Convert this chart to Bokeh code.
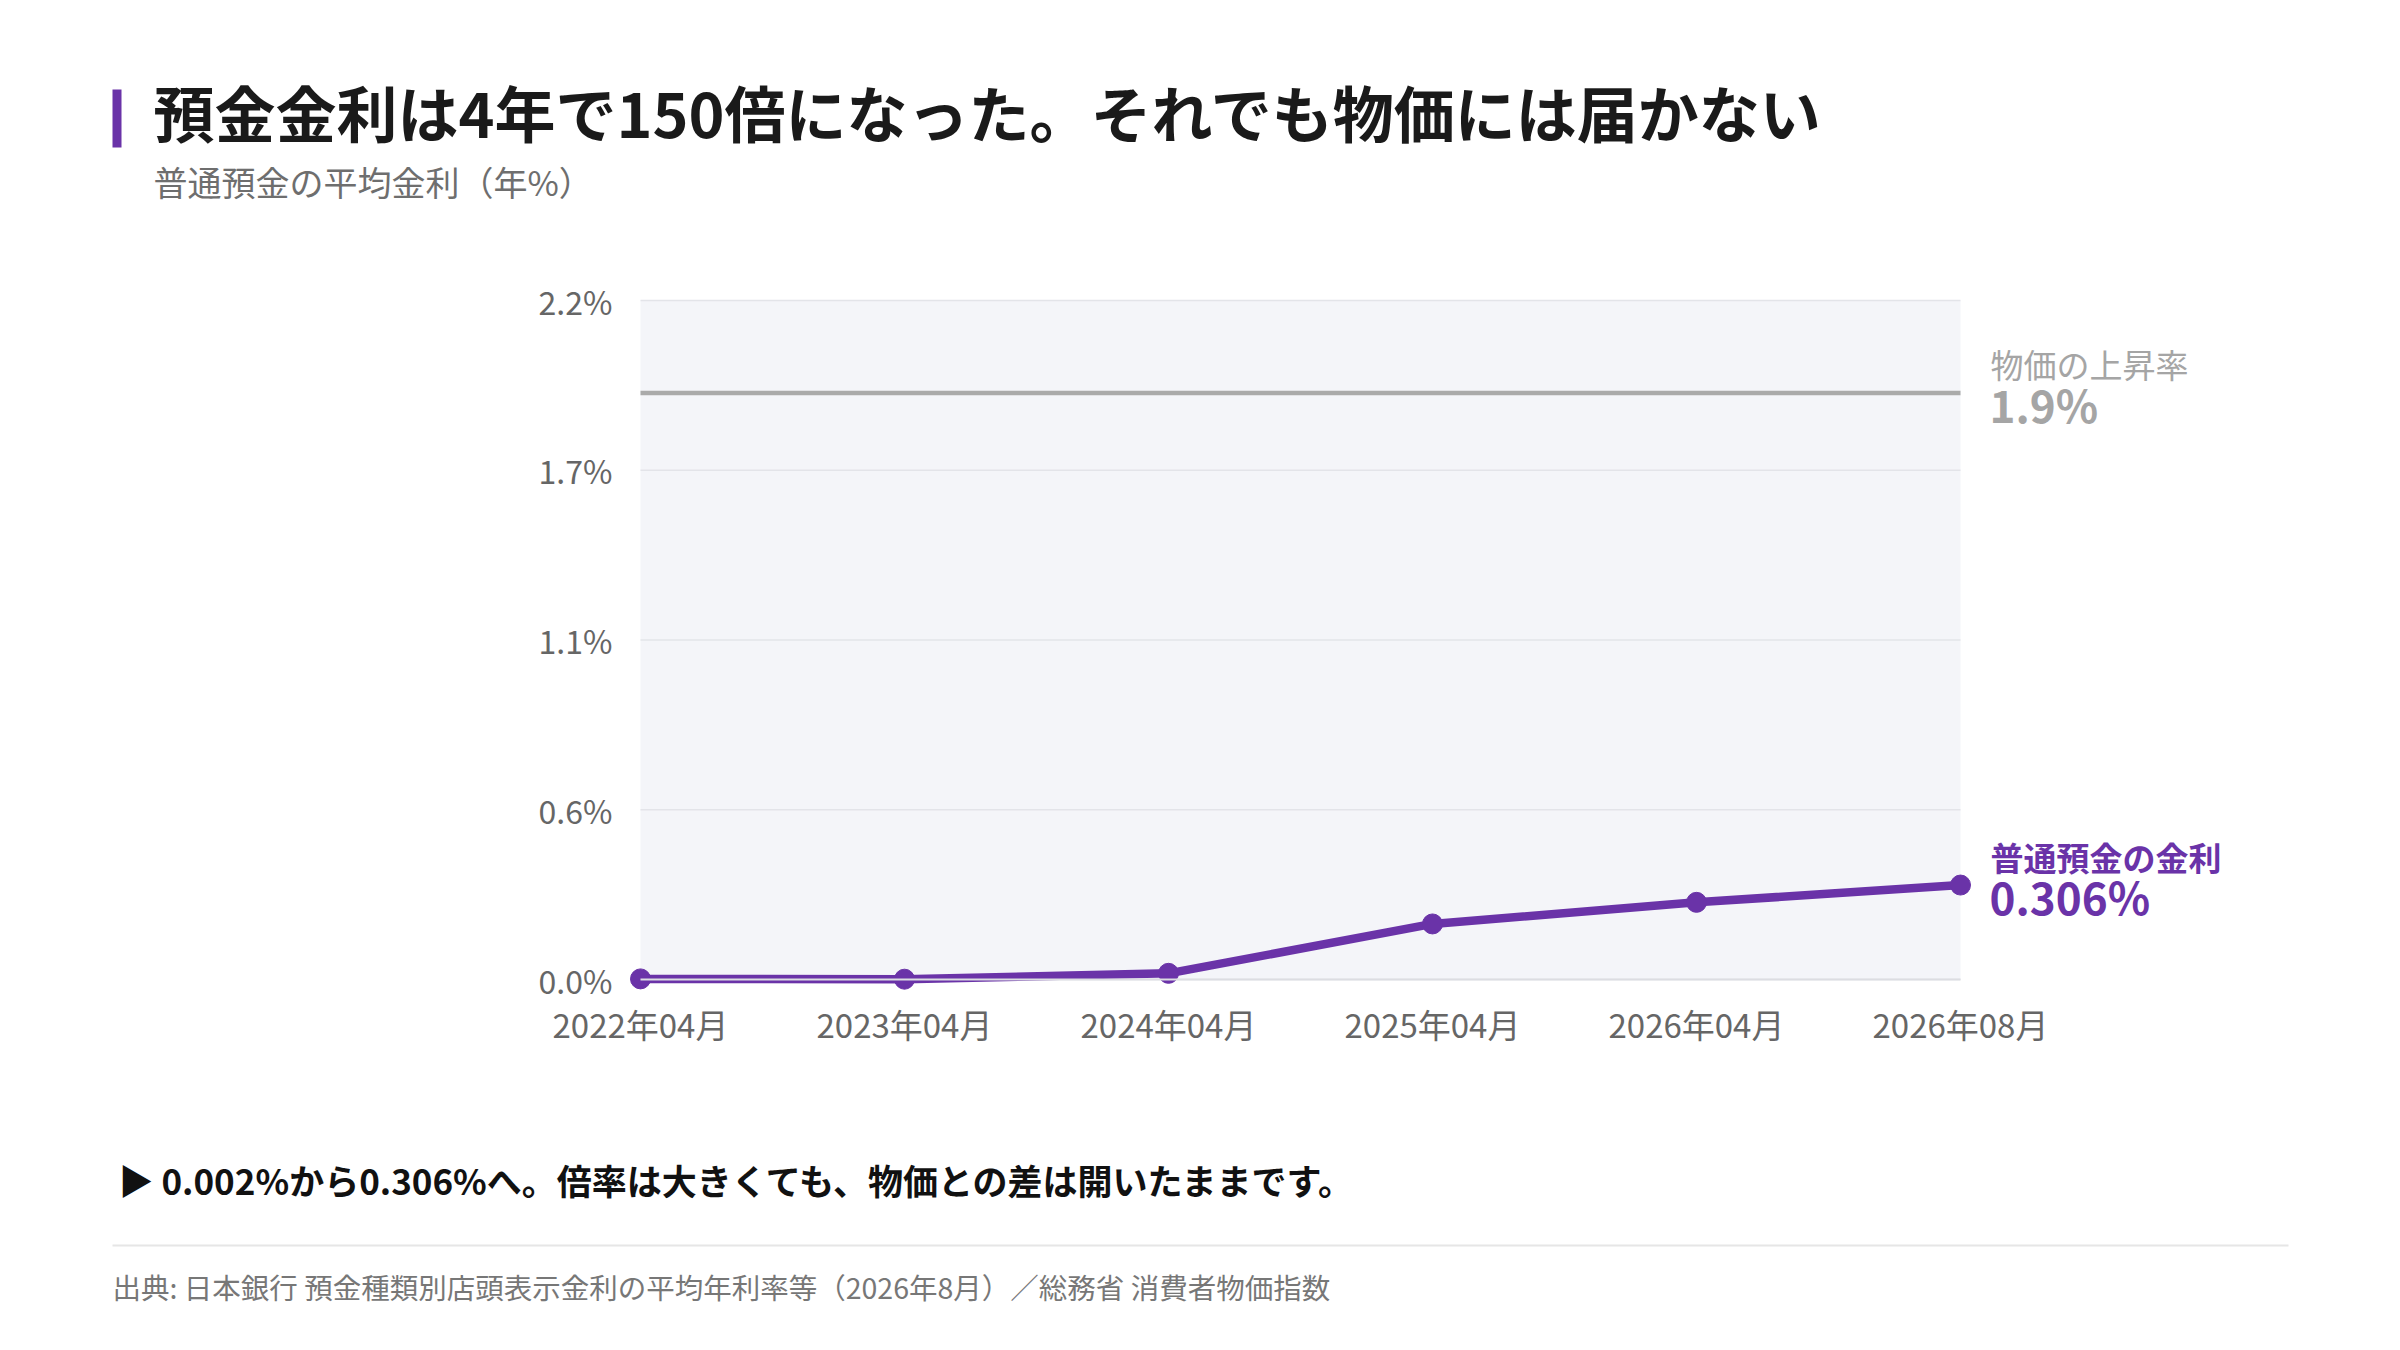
from bokeh.plotting import figure
from bokeh.models import Range1d, FixedTicker, Label, BoxAnnotation, ColumnDataSource
from bokeh.embed import file_html
from bokeh.resources import INLINE

# ---------------- data ----------------
title_text = "預金金利は4年で150倍になった。それでも物価には届かない"
subtitle_text = "普通預金の平均金利（年%）"
months = ["2022年04月", "2023年04月", "2024年04月", "2025年04月", "2026年04月", "2026年08月"]
deposit_rate = [0.002, 0.001, 0.02, 0.18, 0.25, 0.306]
cpi_rate = 1.9
y_ticks = [0.0, 0.55, 1.1, 1.65, 2.2]
y_tick_labels = ["0.0%", "0.6%", "1.1%", "1.7%", "2.2%"]
deposit_label = "普通預金の金利"
cpi_label = "物価の上昇率"
note_text = "▶ 0.002%から0.306%へ。倍率は大きくても、物価との差は開いたままです。"
source_text = "出典: 日本銀行 預金種類別店頭表示金利の平均年利率等（2026年8月）／総務省 消費者物価指数"

# ---------------- styles / layout ----------------
FONT = "Noto Sans CJK JP"
PURPLE = "#6a33a8"
GRAY_LINE = "#aaaaaa"
W, H = 2384, 1334
PX_L, PX_R, PX_T, PX_B = 640, 1960, 300, 979   # plot area on the page (px)

x_idx = list(range(len(months)))
x0, x1 = x_idx[0], x_idx[-1]
y0, y1 = y_ticks[0], y_ticks[-1]
sx = (PX_R - PX_L) / (x1 - x0)
sy = (PX_B - PX_T) / (y1 - y0)

def X(px):
    return x0 + (px - PX_L) / sx

def Y(py):
    return y0 + (PX_B - py) / sy

p = figure(width=W, height=H, output_backend="svg", toolbar_location=None,
           x_range=Range1d(X(0), X(W)), y_range=Range1d(Y(H), Y(0)),
           min_border_left=0, min_border_right=0, min_border_top=0, min_border_bottom=0)
p.background_fill_color = "white"
p.border_fill_color = "white"
p.outline_line_color = None

# plot-area background limited to the data extent
p.add_layout(BoxAnnotation(left=x0, right=x1, bottom=y0, top=y1,
                           fill_color="#f4f5f9", fill_alpha=1, line_color=None, level="image"))

# axes (fixed at the data origin)
p.xaxis.fixed_location = y0
p.xaxis.bounds = (x0, x1)
p.xaxis.ticker = FixedTicker(ticks=x_idx)
p.xaxis.major_label_overrides = dict(zip(x_idx, months))
p.xaxis.axis_line_color = "#dcdde2"
p.xaxis.axis_line_width = 2
p.xaxis.major_tick_line_color = None
p.xaxis.minor_tick_line_color = None
p.xaxis.major_tick_out = 0
p.xaxis.major_tick_in = 0
p.xaxis.major_label_standoff = 20
p.xaxis.major_label_text_font = FONT
p.xaxis.major_label_text_font_size = "33px"
p.xaxis.major_label_text_color = "#666666"

p.yaxis.fixed_location = x0
p.yaxis.bounds = (y0, y1)
p.yaxis.ticker = FixedTicker(ticks=y_ticks)
p.yaxis.major_label_overrides = dict(zip(y_ticks, y_tick_labels))
p.yaxis.axis_line_color = None
p.yaxis.major_tick_line_color = None
p.yaxis.minor_tick_line_color = None
p.yaxis.major_tick_out = 0
p.yaxis.major_tick_in = 0
p.yaxis.major_label_standoff = 28
p.yaxis.major_label_text_font = FONT
p.yaxis.major_label_text_font_size = "32px"
p.yaxis.major_label_text_color = "#666666"

# horizontal grid lines, limited to the plot area
p.xgrid.grid_line_color = None
p.ygrid.grid_line_color = None
n = len(y_ticks)
p.segment(x0=[x0] * n, y0=y_ticks, x1=[x1] * n, y1=y_ticks,
          line_color="#e3e4e9", line_width=1.5)

# CPI reference line
p.line([x0, x1], [cpi_rate, cpi_rate], line_color=GRAY_LINE, line_width=4.5)

# deposit rate line
src = ColumnDataSource(dict(x=x_idx, y=deposit_rate))
p.line("x", "y", source=src, line_color=PURPLE, line_width=8.5, line_join="round")
p.scatter("x", "y", source=src, size=20, fill_color=PURPLE, line_color=PURPLE)

def lab(x, y, text, size, color, style="normal", xo=0, yo=0):
    p.add_layout(Label(x=x, y=y, text=text, x_offset=xo, y_offset=yo,
                       text_font=FONT, text_font_size=size, text_color=color,
                       text_font_style=style, text_align="left", text_baseline="middle"))

# end labels
lab(x1, cpi_rate, cpi_label, "33px", "#a5a5a5", xo=30, yo=29)
lab(x1, cpi_rate, f"{cpi_rate:.1f}%", "44px", "#a5a5a5", style="bold", xo=29, yo=-11)
lab(x1, deposit_rate[-1], deposit_label, "33px", PURPLE, style="bold", xo=30, yo=28)
lab(x1, deposit_rate[-1], f"{deposit_rate[-1]:.3f}%", "44px", PURPLE, style="bold", xo=29, yo=-11)

# header / footer
p.add_layout(BoxAnnotation(left=X(112), right=X(121), top=Y(89), bottom=Y(147),
                           fill_color=PURPLE, fill_alpha=1, line_color=None))
lab(X(153), Y(111), title_text, "61px", "#1a1a1a", style="bold")
lab(X(153), Y(181), subtitle_text, "34px", "#6e6e6e")
lab(X(118), Y(1179), note_text, "35px", "#111111", style="bold")
p.add_layout(BoxAnnotation(left=X(112), right=X(2288), top=Y(1244), bottom=Y(1246),
                           fill_color="#e6e6e6", fill_alpha=1, line_color=None))
lab(X(112), Y(1286), source_text, "28.5px", "#777777")

open("out.html", "w").write(file_html(p, INLINE))
